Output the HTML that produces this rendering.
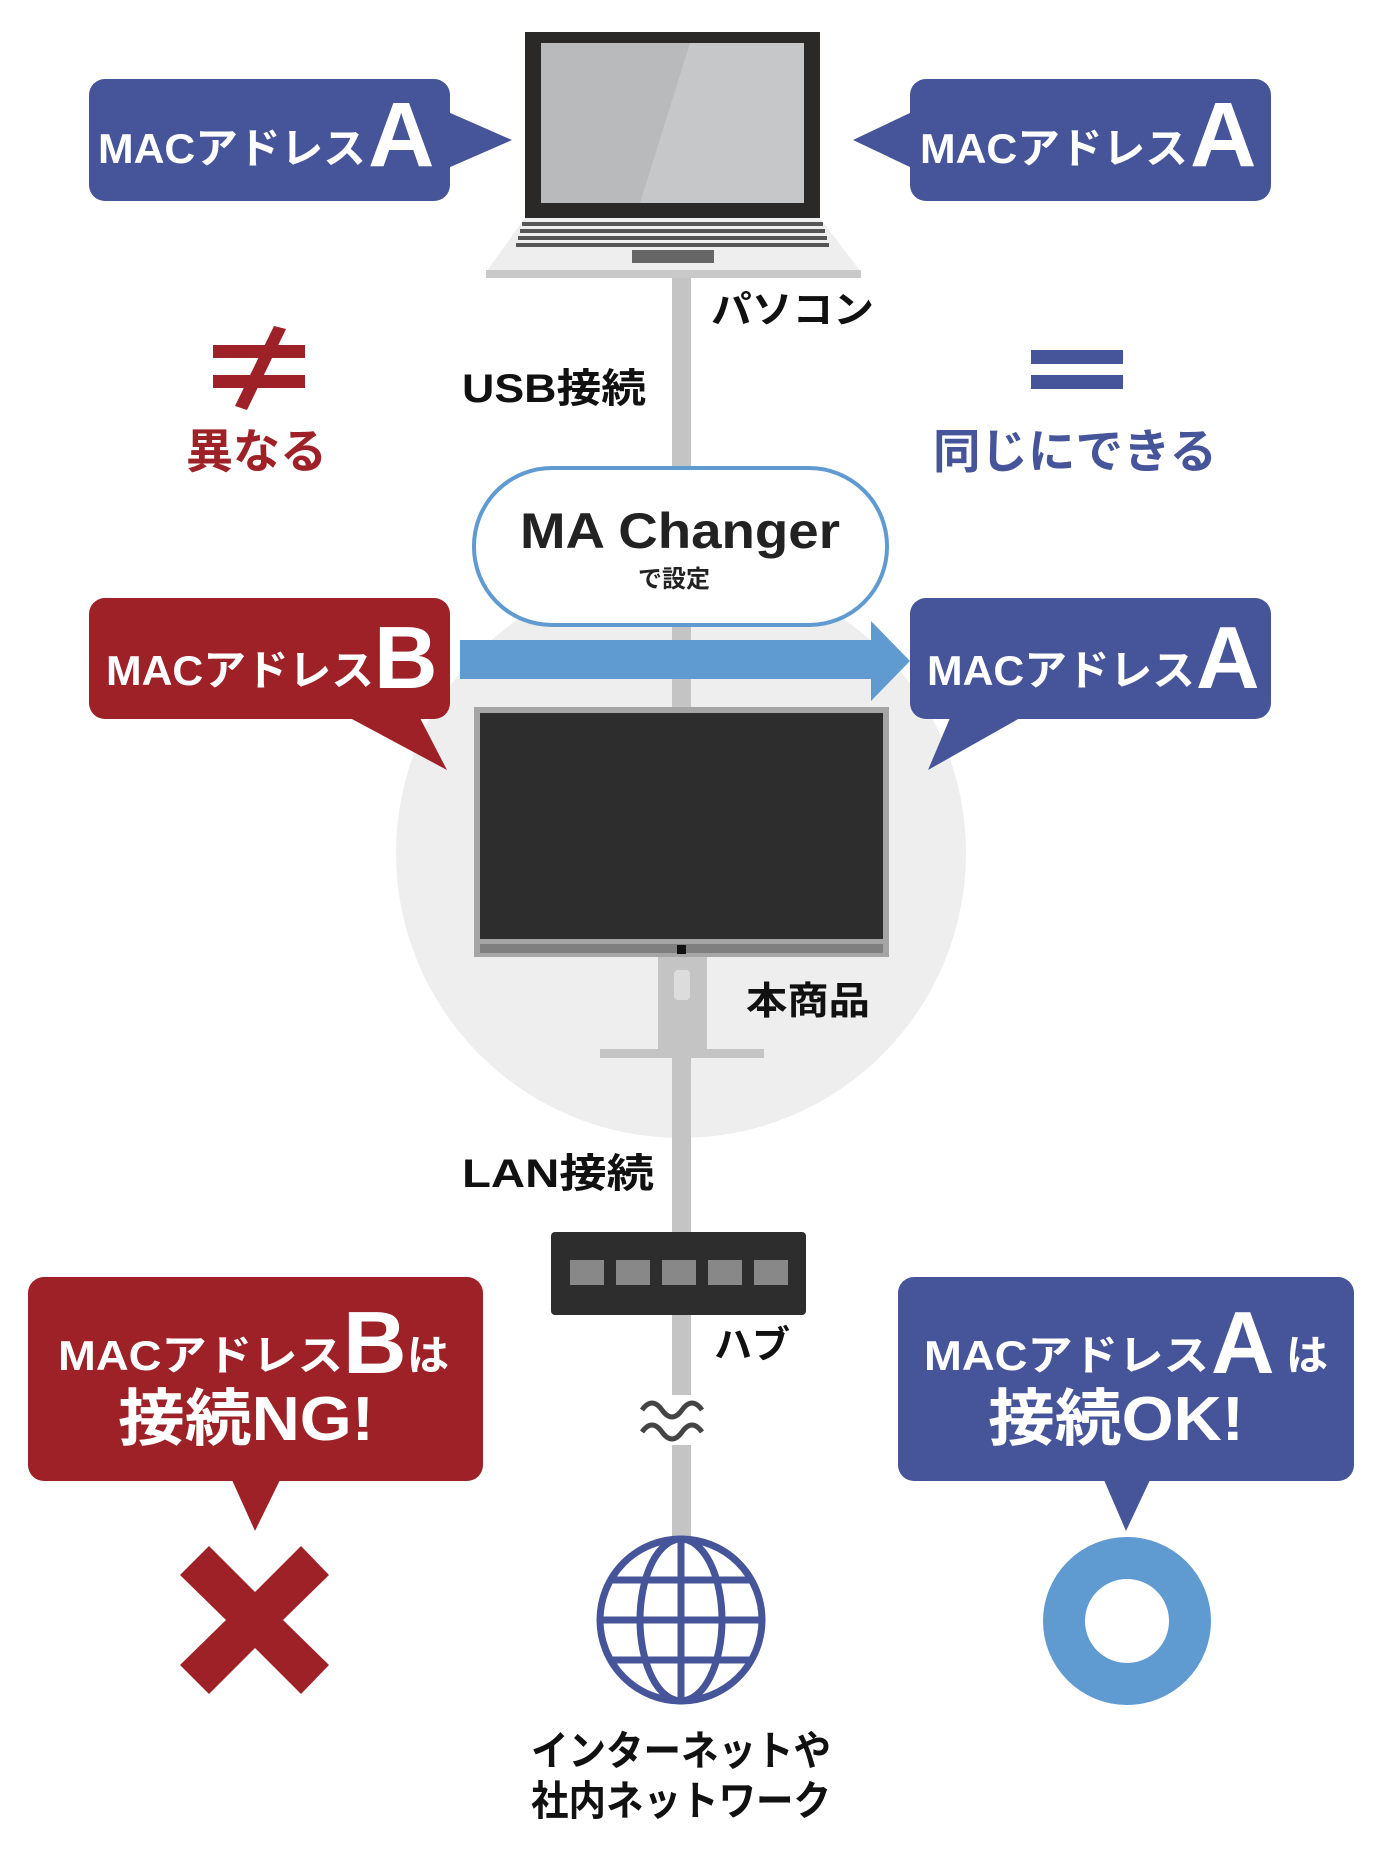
<!DOCTYPE html>
<html><head><meta charset="utf-8"><style>
body{margin:0;background:#fff;}
svg text{font-family:"Liberation Sans","Noto Sans CJK JP",sans-serif;font-weight:bold;}
</style></head><body>
<svg width="1380" height="1854" viewBox="0 0 1380 1854" xmlns="http://www.w3.org/2000/svg">
<circle cx="681" cy="853" r="285" fill="#eeeeee"/>
<rect x="672" y="270" width="19" height="1270" fill="#c4c4c4"/>
<!-- laptop -->
<rect x="525" y="32" width="295" height="186" fill="#2b2828"/>
<rect x="541" y="43" width="263" height="160" fill="#b9babb"/>
<polygon points="640,203 690,43 804,43 804,203" fill="#c6c7c8"/>
<polygon points="525,218 820,218 861,272 486,272" fill="#eeeeee"/>
<rect x="486" y="270" width="375" height="8" fill="#c9c9c9"/>
<g fill="#555">
<rect x="522" y="222" width="301" height="4"/><rect x="520" y="229" width="305" height="4"/><rect x="518" y="236" width="309" height="4"/><rect x="516" y="243" width="313" height="4"/>
</g>
<rect x="632" y="250" width="82" height="13" fill="#666"/>
<!-- top bubbles -->
<rect x="89" y="79" width="361" height="122" rx="16" fill="#46549a"/>
<polygon points="448,112 512,140 448,168" fill="#46549a"/>
<text x="98" y="163" font-size="42" fill="#fff" textLength="268" lengthAdjust="spacingAndGlyphs">MACアドレス</text>
<text x="368" y="166" font-size="92" fill="#fff">A</text>
<rect x="910" y="79" width="361" height="122" rx="16" fill="#46549a"/>
<polygon points="912,112 853,140 912,168" fill="#46549a"/>
<text x="920" y="163" font-size="42" fill="#fff" textLength="268" lengthAdjust="spacingAndGlyphs">MACアドレス</text>
<text x="1190" y="166" font-size="92" fill="#fff">A</text>
<text x="711" y="323" font-size="38" fill="#111" textLength="163" lengthAdjust="spacingAndGlyphs">パソコン</text>
<text x="462" y="402" font-size="40" fill="#111" textLength="184" lengthAdjust="spacingAndGlyphs">USB接続</text>
<!-- not equal -->
<rect x="213" y="345" width="92" height="13" fill="#9e2128"/>
<rect x="213" y="375" width="92" height="13" fill="#9e2128"/>
<polygon points="274,326 286,329 247,410 235,406" fill="#9e2128"/>
<text x="186" y="468" font-size="47" fill="#9e2128">異なる</text>
<rect x="1031" y="350" width="92" height="14" fill="#46549a"/>
<rect x="1031" y="375" width="92" height="14" fill="#46549a"/>
<text x="933" y="468" font-size="47" fill="#46549a" textLength="284" lengthAdjust="spacingAndGlyphs">同じにできる</text>
<!-- pill -->
<rect x="474" y="468" width="413" height="157" rx="78" fill="#fff" stroke="#5f9bd1" stroke-width="4"/>
<text x="520" y="548" font-size="50" fill="#222" textLength="320" lengthAdjust="spacingAndGlyphs">MA Changer</text>
<text x="638" y="587" font-size="24" fill="#222">で設定</text>
<!-- row 2 bubbles -->
<rect x="89" y="598" width="361" height="121" rx="16" fill="#9e2128"/>
<polygon points="350,718 420,718 447,770" fill="#9e2128"/>
<text x="106" y="685" font-size="42" fill="#fff" textLength="268" lengthAdjust="spacingAndGlyphs">MACアドレス</text>
<text x="374" y="688" font-size="88" fill="#fff">B</text>
<polygon points="460,640 871,640 871,621 910,661 871,701 871,679 460,679" fill="#5f9bd1"/>
<rect x="910" y="598" width="361" height="121" rx="16" fill="#46549a"/>
<polygon points="950,718 1020,718 928,770" fill="#46549a"/>
<text x="927" y="685" font-size="42" fill="#fff" textLength="268" lengthAdjust="spacingAndGlyphs">MACアドレス</text>
<text x="1196" y="688" font-size="88" fill="#fff">A</text>
<!-- monitor -->
<rect x="474" y="707" width="415" height="250" fill="#a5a5a5"/>
<rect x="480" y="713" width="403" height="226" fill="#2d2d2d"/>
<rect x="480" y="944" width="403" height="9" fill="#7f7f7f"/>
<rect x="677" y="945" width="9" height="9" fill="#111"/>
<rect x="658" y="957" width="49" height="94" fill="#c4c4c4"/>
<rect x="674" y="970" width="16" height="30" rx="4" fill="#dcdcdc"/>
<rect x="600" y="1049" width="164" height="9" fill="#c4c4c4"/>
<text x="746" y="1014" font-size="38" fill="#111" textLength="124" lengthAdjust="spacingAndGlyphs">本商品</text>
<text x="462" y="1187" font-size="40" fill="#111" textLength="192" lengthAdjust="spacingAndGlyphs">LAN接続</text>
<!-- hub -->
<rect x="551" y="1232" width="255" height="83" rx="4" fill="#2d2d2d"/>
<g fill="#888">
<rect x="570" y="1260" width="34" height="25"/><rect x="616" y="1260" width="34" height="25"/><rect x="662" y="1260" width="34" height="25"/><rect x="708" y="1260" width="34" height="25"/><rect x="754" y="1260" width="34" height="25"/>
</g>
<text x="714" y="1358" font-size="38" fill="#111">ハブ</text>
<rect x="655" y="1395" width="56" height="50" fill="#fff"/>
<path d="M642,1410 q10,-14 20,0 t20,0 t20,0 M642,1432 q10,-14 20,0 t20,0 t20,0" fill="none" stroke="#444" stroke-width="5"/>
<!-- bottom bubbles -->
<rect x="28" y="1277" width="455" height="204" rx="16" fill="#9e2128"/>
<polygon points="232,1480 280,1480 255,1531" fill="#9e2128"/>
<text x="58" y="1370" font-size="42" fill="#fff" textLength="285" lengthAdjust="spacingAndGlyphs">MACアドレス</text>
<text x="343" y="1373" font-size="88" fill="#fff">B</text>
<text x="407" y="1370" font-size="42" fill="#fff">は</text>
<text x="118" y="1440" font-size="62" fill="#fff" textLength="256" lengthAdjust="spacingAndGlyphs">接続NG!</text>
<rect x="898" y="1277" width="456" height="204" rx="16" fill="#46549a"/>
<polygon points="1104,1480 1150,1480 1126,1531" fill="#46549a"/>
<text x="924" y="1370" font-size="42" fill="#fff" textLength="285" lengthAdjust="spacingAndGlyphs">MACアドレス</text>
<text x="1211" y="1373" font-size="88" fill="#fff">A</text>
<text x="1286" y="1370" font-size="42" fill="#fff">は</text>
<text x="988" y="1440" font-size="62" fill="#fff" textLength="256" lengthAdjust="spacingAndGlyphs">接続OK!</text>
<!-- X -->
<polygon points="180,1575 209,1546 255,1592 301,1546 329,1575 283,1620 329,1665 301,1694 255,1648 209,1694 180,1665 226,1620" fill="#9e2128"/>
<!-- globe -->
<g fill="none" stroke="#46549a" stroke-width="7">
<circle cx="681" cy="1620" r="81"/>
<ellipse cx="681" cy="1620" rx="41" ry="81"/>
<line x1="681" y1="1539" x2="681" y2="1701"/>
<line x1="600" y1="1620" x2="762" y2="1620"/>
<line x1="612" y1="1580" x2="750" y2="1580"/>
<line x1="612" y1="1660" x2="750" y2="1660"/>
</g>
<!-- O -->
<circle cx="1127" cy="1621" r="63" fill="none" stroke="#5f9bd1" stroke-width="42"/>
<text x="531" y="1765" font-size="41" fill="#111" textLength="300" lengthAdjust="spacingAndGlyphs">インターネットや</text>
<text x="531" y="1815" font-size="41" fill="#111" textLength="300" lengthAdjust="spacingAndGlyphs">社内ネットワーク</text>
</svg>
</body></html>
